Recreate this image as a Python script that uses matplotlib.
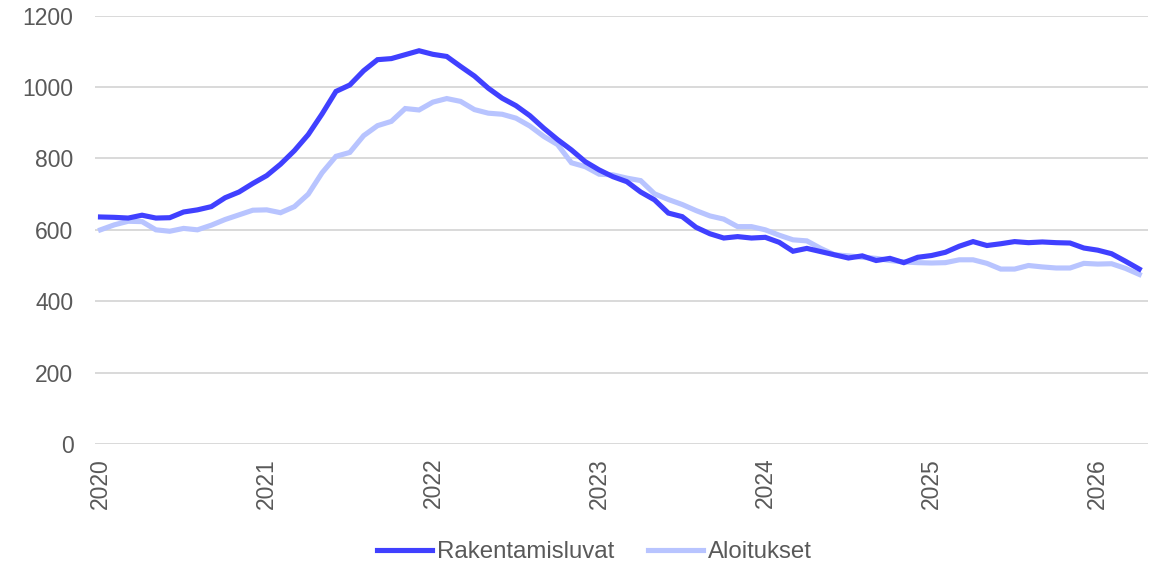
import numpy as np
import matplotlib
matplotlib.use("Agg")
import matplotlib.pyplot as plt

# -------------------------------
# Data (monthly, Jan 2020 - Apr 2026)
# -------------------------------
rakentamisluvat = [
    636, 635, 633, 641, 633, 634, 650, 656, 665, 690, 706, 730,
    752, 784, 822, 867, 925, 988, 1006, 1046, 1077, 1080, 1091, 1102,
    1092, 1086, 1058, 1031, 997, 969, 948, 920, 885, 853, 824, 791,
    768, 749, 735, 706, 684, 647, 637, 607, 589, 577, 581, 577,
    579, 565, 540, 548, 539, 530, 521, 527, 514, 520, 508, 523,
    528, 537, 554, 567, 556, 561, 567, 564, 566, 564, 563, 549,
    543, 533, 512, 490,
]
aloitukset = [
    600, 614, 624, 623, 600, 596, 604, 600, 613, 629, 642, 655,
    656, 648, 665, 700, 760, 806, 817, 864, 892, 904, 940, 936,
    958, 968, 960, 937, 927, 924, 913, 891, 862, 839, 788, 777,
    756, 754, 745, 738, 701, 685, 671, 654, 639, 630, 609, 609,
    600, 585, 572, 569, 548, 530, 527, 523, 520, 514, 510, 508,
    507, 508, 516, 516, 506, 490, 490, 500, 496, 493, 493, 506,
    504, 505, 492, 475,
]
years = ["2020", "2021", "2022", "2023", "2024", "2025", "2026"]
labels = ["Rakentamisluvat", "Aloitukset"]
colors = ["#4040FF", "#B8C4FF"]

# -------------------------------
# Plot
# -------------------------------
plt.rcParams["font.family"] = ["Liberation Sans", "DejaVu Sans"]

months = np.arange(len(rakentamisluvat))

fig = plt.figure(figsize=(11.58, 5.64), dpi=100)
ax = fig.add_axes([0.082, 0.213, 0.909, 0.759])

ax.plot(months, aloitukset, color=colors[1], lw=3.7, label=labels[1],
        solid_joinstyle="miter", zorder=3)
ax.plot(months, rakentamisluvat, color=colors[0], lw=3.7, label=labels[0],
        solid_joinstyle="miter", zorder=4)

ax.set_ylim(0, 1200)
ax.set_yticks(np.arange(0, 1201, 200))
ax.set_xlim(-0.4, 75.6)
ax.set_xticks(np.arange(len(years)) * 12)
ax.set_xticklabels(years, rotation=90)

ax.grid(axis="y", color="#D9D9D9", lw=1.4)
ax.set_axisbelow(True)
for s in ax.spines.values():
    s.set_visible(False)
ax.tick_params(axis="both", length=0, labelsize=16.5, labelcolor="#595959")
ax.tick_params(axis="y", pad=15.5)
ax.tick_params(axis="x", pad=10)

handles, labs = ax.get_legend_handles_labels()
fig.legend(handles[::-1], labs[::-1], loc="center",
           bbox_to_anchor=(594 / 1158, 0.021), ncol=2, frameon=False,
           fontsize=17.3, handlelength=2.3, handletextpad=0.2,
           columnspacing=1.4, labelcolor="#595959")

fig.savefig("out.png", dpi=100)
